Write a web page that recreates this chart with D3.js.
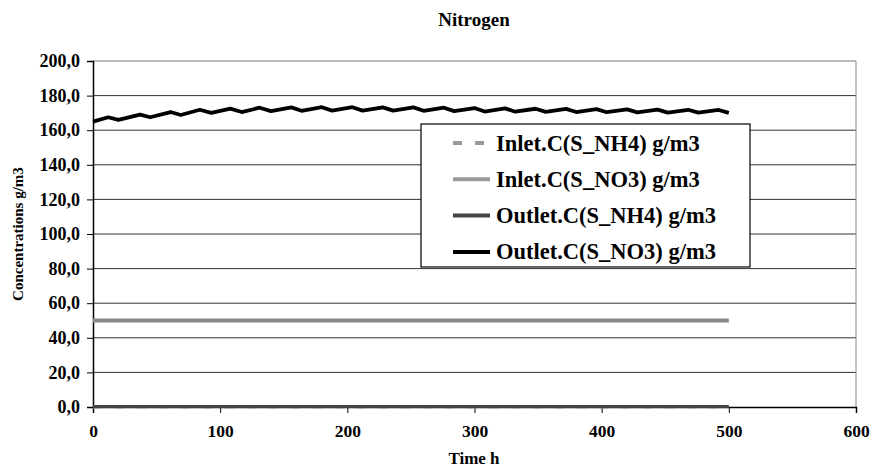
<!DOCTYPE html>
<html><head><meta charset="utf-8">
<script src="https://cdn.jsdelivr.net/npm/d3@7"></script>
<style>body{margin:0;background:#fff}svg{display:block}</style>
</head><body><svg id="c" width="871" height="469" font-family="'Liberation Serif'" font-weight="bold"></svg>
<script>
const title = "Nitrogen";
const xLabel = "Time h";
const yLabel = "Concentrations g/m3";
const xTicks = [0,100,200,300,400,500,600];
const yTicks = [0,20,40,60,80,100,120,140,160,180,200];
const seriesNames = ["Inlet.C(S_NH4) g/m3","Inlet.C(S_NO3) g/m3","Outlet.C(S_NH4) g/m3","Outlet.C(S_NO3) g/m3"];
const inletTime = [0,500];
const inletNH4 = [0,0];
const inletNO3 = [50,50];
const outletNH4 = [0.3,0.3];
const outletTime = [0,12,20,37,45,61,69,84,93,108,117,131,140,156,164,180,188,204,212,228,236,252,260,276,284,300,308,324,332,348,356,372,380,396,404,420,428,444,452,468,476,492,500];
const outletNO3 = [165,167.5,166,169,167.5,170.5,168.8,171.8,170,172.5,170.5,173,171,173.2,171.2,173.3,171.3,173.3,171.3,173.2,171.3,173.2,171.2,173,171,172.8,170.8,172.6,170.7,172.4,170.6,172.3,170.5,172.2,170.4,172,170.3,171.9,170.2,171.8,170.2,171.7,170];

const FONT = "Liberation Serif";
const svg = d3.select("#c");
const x = d3.scaleLinear().domain([0,600]).range([93,856]);
const y = d3.scaleLinear().domain([0,200]).range([407,61]);

// gridlines
svg.append("g").selectAll("line").data(yTicks.filter(d=>d>0)).join("line")
  .attr("x1",x(0)).attr("x2",x(600)).attr("y1",d=>y(d)).attr("y2",d=>y(d))
  .attr("stroke",d=>d===200?"#777":"#333").attr("stroke-width",1);
svg.append("line").attr("x1",x(600)).attr("x2",x(600)).attr("y1",y(200)).attr("y2",y(0)).attr("stroke","#888");

// axes
const xAxis = d3.axisBottom(x).tickValues(xTicks).tickSize(6).tickFormat(d3.format("d"));
const gx = svg.append("g").attr("transform",`translate(0,${y(0)})`).call(xAxis)
  .attr("font-family",FONT).attr("font-weight","bold").attr("font-size",17.5);
gx.select(".domain").attr("stroke","#000").attr("stroke-width",1.5);
gx.selectAll(".tick line").attr("stroke","#000");
gx.selectAll(".tick text").attr("dy","1.2em").attr("fill","#000");

const yAxis = d3.axisLeft(y).tickValues(yTicks).tickSize(6).tickFormat(d=>d.toFixed(1).replace(".",","));
const gy = svg.append("g").attr("transform",`translate(${x(0)},0)`).call(yAxis)
  .attr("font-family",FONT).attr("font-weight","bold").attr("font-size",18);
gy.select(".domain").attr("stroke","#000").attr("stroke-width",1.5);
gy.selectAll(".tick line").attr("stroke","#000");
gy.selectAll(".tick text").attr("x",-13).attr("fill","#000");

// lines
const line = d3.line().x(d=>x(d[0])).y(d=>y(d[1]));
const zip = (a,b)=>a.map((v,i)=>[v,b[i]]);
svg.append("path").datum(zip(inletTime,inletNH4)).attr("d",line).attr("fill","none").attr("stroke","#999").attr("stroke-width",3).attr("stroke-dasharray","9,13");
svg.append("path").datum(zip(inletTime,inletNO3)).attr("d",line).attr("fill","none").attr("stroke","#888").attr("stroke-width",4);
svg.append("path").datum(zip(inletTime,outletNH4)).attr("d",line).attr("fill","none").attr("stroke","#444").attr("stroke-width",3);
svg.append("path").datum(zip(outletTime,outletNO3)).attr("d",line).attr("fill","none").attr("stroke","#000").attr("stroke-width",3.8).attr("stroke-linejoin","round");

// title and labels
const txt = (sel)=>sel.attr("font-family",FONT).attr("font-weight","bold").attr("fill","#000");
txt(svg.append("text")).attr("x",474).attr("y",26).attr("text-anchor","middle").attr("font-size",19).text(title);
txt(svg.append("text")).attr("x",474).attr("y",464).attr("text-anchor","middle").attr("font-size",17).text(xLabel);
txt(svg.append("text")).attr("transform","translate(23,234) rotate(-90)").attr("text-anchor","middle").attr("font-size",15).text(yLabel);

// legend
const lg = svg.append("g");
lg.append("rect").attr("x",421).attr("y",124).attr("width",329).attr("height",143).attr("fill","#fff").attr("stroke","#000").attr("stroke-width",1.2);
const styles = [
  {stroke:"#999",w:4,dash:"9,13"},
  {stroke:"#999",w:4,dash:null},
  {stroke:"#444",w:4,dash:null},
  {stroke:"#000",w:4,dash:null}
];
seriesNames.forEach((n,i)=>{
  const cy = 143 + i*36.3;
  lg.append("line").attr("x1",453).attr("x2",490).attr("y1",cy).attr("y2",cy)
    .attr("stroke",styles[i].stroke).attr("stroke-width",styles[i].w).attr("stroke-dasharray",styles[i].dash);
  txt(lg.append("text")).attr("x",496).attr("y",cy+7.5).attr("font-size",22.5).text(n);
});
</script></body></html>
